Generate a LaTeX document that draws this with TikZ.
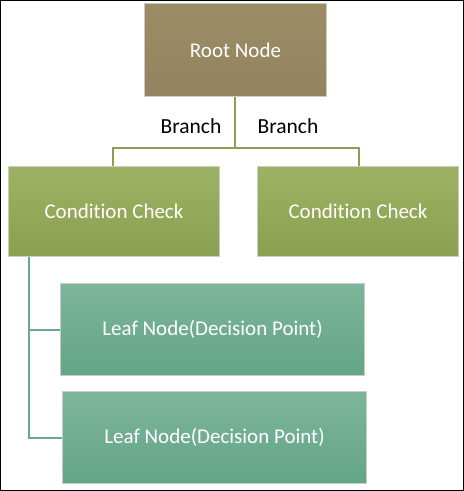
\documentclass[tikz,border=0pt]{standalone}
\usepackage{fontspec}
\setmainfont[Ligatures=NoCommon]{Carlito}
\definecolor{rootTop}{HTML}{9C8C66}
\definecolor{rootBot}{HTML}{938360}
\definecolor{condTop}{HTML}{9DB264}
\definecolor{condBot}{HTML}{8B9F50}
\definecolor{leafTop}{HTML}{7DB59C}
\definecolor{leafBot}{HTML}{63A587}
\definecolor{lineG}{HTML}{8DA052}
\definecolor{lineT}{HTML}{6AA88B}
\definecolor{shadowC}{HTML}{C9CCC0}
\begin{document}
\begin{tikzpicture}[x=1pt,y=-1pt,
  boxbase/.style={draw=shadowC,line width=1pt,minimum width=#1,inner sep=0pt,text=white,font=\fontsize{21}{24}\selectfont,anchor=north west},
  rootbox/.style={boxbase=182pt,minimum height=93pt,top color=rootTop,bottom color=rootBot},
  condbox/.style={boxbase=#1,minimum height=90pt,top color=condTop,bottom color=condBot},
  leafbox/.style={boxbase=304pt,minimum height=92pt,top color=leafTop,bottom color=leafBot},
  lbl/.style={font=\fontsize{21.5}{24}\selectfont,text=black,inner sep=0pt},
  gline/.style={draw=lineG,line width=2pt},
  tline/.style={draw=lineT,line width=2pt}]
\useasboundingbox (0,0) rectangle (464,491);
\draw[black,line width=1pt] (0.5,0.5) rectangle (463,490);
\node[rootbox] (root) at (144,3) {Root Node};
\node[condbox=211pt] (c1) at (8,166) {Condition Check};
\node[condbox=201pt] (c2) at (257,166) {Condition Check};
\node[leafbox] (l1) at (60,283) {Leaf Node(Decision Point)};
\node[leafbox] (l2) at (62,391) {Leaf Node(Decision Point)};
\node[lbl] (b1) at (191,126) {Branch};
\node[lbl] (b2) at (288,126) {Branch};
\coordinate (j) at (235,148);
\draw[gline] (root.south -| j) -- (j);
\draw[gline] (c1.north -| 113,0) |- (j) -| (c2.north -| 359,0);
\draw[tline] (c1.south -| 29,0) |- (l2.west);
\draw[tline] (29,0 |- l1.west) -- (l1.west);
\end{tikzpicture}
\end{document}
